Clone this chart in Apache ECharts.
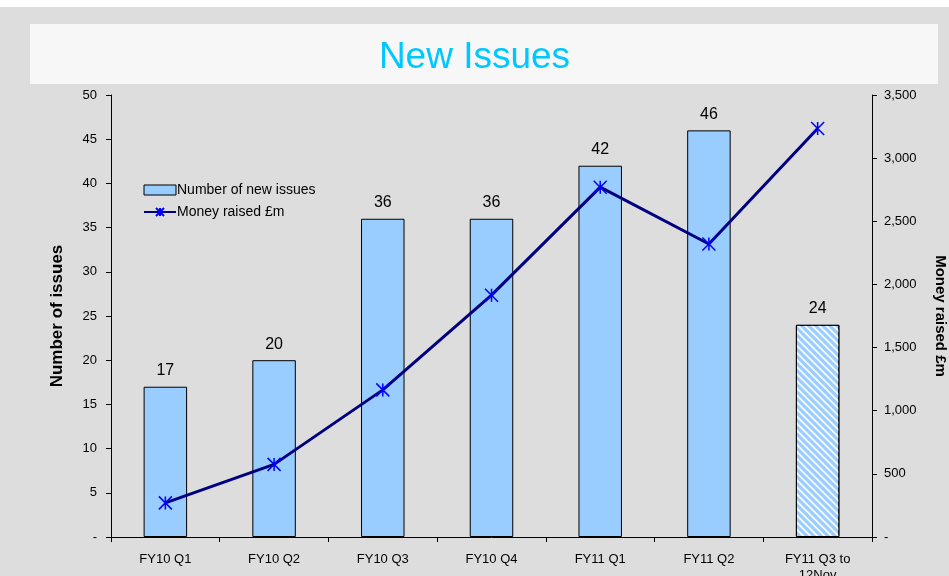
<!DOCTYPE html>
<html>
<head>
<meta charset="utf-8">
<script src="https://cdn.jsdelivr.net/npm/echarts@6/dist/echarts.min.js"></script>
<style>
  html, body { margin: 0; padding: 0; background: #ffffff; }
  #chart { width: 949px; height: 576px; }
</style>
</head>
<body>
<div id="chart"></div>
<script>
// datos
const categorias = ["FY10 Q1", "FY10 Q2", "FY10 Q3", "FY10 Q4", "FY11 Q1", "FY11 Q2", "FY11 Q3 to\n12Nov"];
const numeroEmisiones = [17, 20, 36, 36, 42, 46, 24];
const dineroRecaudado = [270, 575, 1165, 1915, 2770, 2320, 3235];

const contenedor = document.getElementById("chart");
const myChart = echarts.init(contenedor);

// la ultima barra va rayada (periodo parcial)
const barData = numeroEmisiones.map((v, i) => {
  if (i === numeroEmisiones.length - 1) {
    return {
      value: v,
      itemStyle: {
        decal: {
          symbol: "rect",
          color: "rgba(255,255,255,0.85)",
          dashArrayX: [1, 0],
          dashArrayY: [2, 3],
          rotation: Math.PI / 4,
        },
      },
    };
  }
  return v;
});

const fmtMiles = (v) => (v === 0 ? "-" : v.toString().replace(/\B(?=(\d{3})+(?!\d))/g, ","));

var option = {
  backgroundColor: "#dddddd",
  animation: false,
  textStyle: { fontFamily: "Liberation Sans, Arial, sans-serif" },
  graphic: [
    { type: "rect", shape: { x: 0, y: 0, width: 949, height: 7 }, style: { fill: "#ffffff" }, z: -1 },
    { type: "rect", shape: { x: 30, y: 24, width: 908, height: 60 }, style: { fill: "#f7f7f7" }, z: -1 },
  ],
  title: {
    text: "New Issues",
    left: "center",
    top: 34,
    textStyle: { color: "#00c8ff", fontSize: 37, fontWeight: "normal", fontFamily: "Liberation Sans, sans-serif" },
  },
  legend: {
    orient: "vertical",
    left: 138,
    top: 178,
    itemGap: 8,
    itemWidth: 32,
    itemHeight: 10,
    selectedMode: false,
    textStyle: { fontSize: 14, color: "#000", padding: [0, 0, 0, -4] },
    data: [
      { name: "Number of new issues", icon: "rect", itemStyle: { color: "#99ccff", borderColor: "#000", borderWidth: 1, decal: "none" } },
      { name: "Money raised £m" },
    ],
  },
  grid: { left: 111, right: 77, top: 95, bottom: 39, outerBoundsMode: "none", containLabel: false },
  xAxis: {
    type: "category",
    data: categorias,
    axisLine: { lineStyle: { color: "#000" } },
    axisTick: { show: true, length: 5, lineStyle: { color: "#000" } },
    axisLabel: { color: "#000", fontSize: 13, margin: 14, lineHeight: 16 },
  },
  yAxis: [
    {
      type: "value",
      min: 0,
      max: 50,
      interval: 5,
      name: "Number of issues",
      nameLocation: "middle",
      nameGap: 45,
      nameRotate: 90,
      nameTextStyle: { fontSize: 17, fontWeight: "bold", color: "#000" },
      axisLine: { show: true, lineStyle: { color: "#000" } },
      axisTick: { show: true, length: 5, lineStyle: { color: "#000" } },
      axisLabel: { color: "#000", fontSize: 13, margin: 14, formatter: fmtMiles },
      splitLine: { show: false },
    },
    {
      type: "value",
      min: 0,
      max: 3500,
      interval: 500,
      position: "right",
      name: "Money raised £m",
      nameLocation: "middle",
      nameGap: 61,
      nameRotate: -90,
      nameTextStyle: { fontSize: 15, fontWeight: "bold", color: "#000" },
      axisLine: { show: true, lineStyle: { color: "#000" } },
      axisTick: { show: true, length: 5, lineStyle: { color: "#000" } },
      axisLabel: { color: "#000", fontSize: 13, margin: 12, formatter: fmtMiles },
      splitLine: { show: false },
    },
  ],
  series: [
    {
      name: "Number of new issues",
      type: "bar",
      yAxisIndex: 0,
      barWidth: "40%",
      data: barData,
      itemStyle: { color: "#99ccff", borderColor: "#000", borderWidth: 1 },
      label: { show: true, position: "top", distance: 8, color: "#000", fontSize: 16 },
    },
    {
      name: "Money raised £m",
      type: "line",
      yAxisIndex: 1,
      data: dineroRecaudado,
      symbol: "path://M0,0 L10,10 M10,0 L0,10 M5,0 L5,10",
      symbolSize: 13,
      showAllSymbol: true,
      lineStyle: { color: "#000080", width: 3 },
      itemStyle: { color: "rgba(0,0,0,0)", borderColor: "#0000ff", borderWidth: 1.5 },
    },
  ],
};

myChart.setOption(option);
</script>
</body>
</html>
